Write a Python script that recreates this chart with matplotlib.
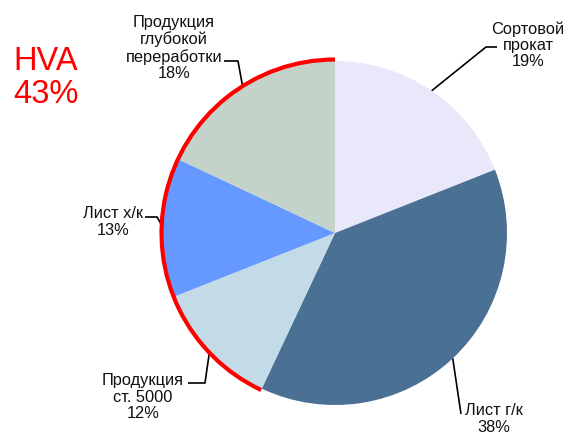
import numpy as np
import matplotlib
matplotlib.use("Agg")
import matplotlib.pyplot as plt
from matplotlib.patches import Arc

plt.rcParams['font.family'] = ['Liberation Sans', 'DejaVu Sans']

labels = ['Сортовой\nпрокат', 'Лист г/к', 'Продукция\nст. 5000', 'Лист х/к',
          'Продукция\nглубокой\nпереработки']
shares = [19, 38, 12, 13, 18]
colors = ['#E8E8FA', '#4A7094', '#C3DBE6', '#6699FF', '#C3D3CA']
hva_labels = ['Продукция\nст. 5000', 'Лист х/к', 'Продукция\nглубокой\nпереработки']

W, H = 564, 437
cx, cy, R = 335, H - 233, 172

# label layout in pixel coords (y from top): text center, elbow, line end
layout = [
    dict(text=(528, 45), elbow=(486, 47), end=(497, 47)),
    dict(text=(494, 419), elbow=(461, 414), end=(461, 414)),
    dict(text=(143, 397), elbow=(205, 383), end=(188, 383)),
    dict(text=(113, 222), elbow=(157, 217), end=(145, 217)),
    dict(text=(174, 48), elbow=(238, 61), end=(224, 61)),
]

fig = plt.figure(figsize=(W / 100, H / 100), dpi=100)
ax = fig.add_axes([0, 0, 1, 1])

wedges, _ = ax.pie(shares, colors=colors, startangle=90, counterclock=False,
                   center=(cx, cy), radius=R, wedgeprops=dict(linewidth=0))
ax.set_xlim(0, W)
ax.set_ylim(0, H)
ax.set_aspect('equal')
ax.axis('off')

for w, lab, share, lay in zip(wedges, labels, shares, layout):
    mid = np.deg2rad((w.theta1 + w.theta2) / 2)
    ax_pt = (cx + R * np.cos(mid), cy + R * np.sin(mid))
    ex, ey = lay['elbow']
    nx, ny = lay['end']
    ax.plot([ax_pt[0], ex, nx], [ax_pt[1], H - ey, H - ny], color='black',
            lw=1.2, solid_capstyle='butt', zorder=3)
    tx, ty = lay['text']
    ax.text(tx, H - ty, f"{lab}\n{share}%", ha='center', va='center',
            fontsize=11.8, linespacing=1.1, color='#111111')

# red arc around the high value-added segments
hva = sum(s for l, s in zip(labels, shares) if l in hva_labels)
ax.add_patch(Arc((cx, cy), 2 * R + 3, 2 * R + 3, theta1=90,
                 theta2=90 + hva * 3.6, color='red', lw=3, zorder=4))

ax.text(46, H - 78, f"HVA\n{hva}%", ha='center', va='center', fontsize=23.5,
        color='red', linespacing=1.1)

fig.savefig('out.png', dpi=100)
